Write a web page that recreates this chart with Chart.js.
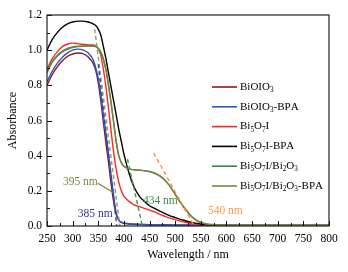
<!DOCTYPE html>
<html>
<head>
<meta charset="utf-8">
<script src="https://cdn.jsdelivr.net/npm/chart.js@4.4.0/dist/chart.umd.min.js"></script>
<style>
  html, body { margin: 0; padding: 0; background: #fff; }
</style>
</head>
<body>
<canvas id="absChart" width="348" height="272"></canvas>
<script>
// wavelength grid (nm) shared by all spectra
const wavelengths = [250, 260, 270, 280, 290, 300, 310, 320, 330, 340, 345, 350, 355, 360, 365, 370, 375, 380, 385, 390, 395, 400,
    410, 420, 430, 440, 450, 460, 470, 480, 490, 500, 510, 520, 530, 540, 550, 560, 580, 600, 650, 700, 750, 800];

// absorbance
const bioio3 = [0.80, 0.86, 0.905, 0.94, 0.965, 0.978, 0.984, 0.98, 0.962, 0.925, 0.885, 0.815, 0.71, 0.59, 0.47, 0.36, 0.24, 0.14, 0.065, 0.032, 0.02, 0.015,
    0.011, 0.009, 0.008, 0.007, 0.006, 0.006, 0.005, 0.005, 0.005, 0.005, 0.004, 0.004, 0.004, 0.004, 0.004, 0.004, 0.003, 0.003, 0.003, 0.003, 0.003, 0.003];
const bioio3Bpa = [0.82, 0.88, 0.925, 0.96, 0.985, 1.0, 1.006, 1.002, 0.985, 0.945, 0.90, 0.84, 0.75, 0.63, 0.52, 0.41, 0.29, 0.17, 0.075, 0.035, 0.022, 0.017,
    0.013, 0.011, 0.01, 0.009, 0.008, 0.008, 0.007, 0.007, 0.007, 0.006, 0.006, 0.006, 0.006, 0.005, 0.005, 0.005, 0.005, 0.005, 0.004, 0.004, 0.004, 0.004];
const bi5o7i = [0.89, 0.95, 0.99, 1.02, 1.035, 1.04, 1.037, 1.033, 1.03, 1.03, 1.025, 1.01, 0.97, 0.89, 0.79, 0.67, 0.54, 0.42, 0.32, 0.25, 0.20, 0.17,
    0.14, 0.12, 0.11, 0.10, 0.09, 0.08, 0.066, 0.055, 0.045, 0.036, 0.028, 0.021, 0.015, 0.011, 0.008, 0.006, 0.004, 0.003, 0.002, 0.002, 0.002, 0.002];
const bi5o7iBpa = [1.0, 1.06, 1.10, 1.13, 1.15, 1.16, 1.165, 1.165, 1.16, 1.15, 1.14, 1.12, 1.085, 1.02, 0.95, 0.87, 0.79, 0.71, 0.63, 0.55, 0.48, 0.41,
    0.30, 0.22, 0.17, 0.14, 0.115, 0.10, 0.085, 0.07, 0.058, 0.048, 0.038, 0.03, 0.022, 0.016, 0.011, 0.008, 0.005, 0.003, 0.002, 0.002, 0.002, 0.002];
const bi5o7iBi2o3 = [0.88, 0.935, 0.97, 0.995, 1.01, 1.018, 1.022, 1.024, 1.025, 1.025, 1.02, 1.01, 0.99, 0.95, 0.89, 0.80, 0.70, 0.59, 0.48, 0.40, 0.36, 0.34,
    0.325, 0.32, 0.318, 0.315, 0.31, 0.30, 0.285, 0.26, 0.225, 0.18, 0.135, 0.095, 0.06, 0.035, 0.02, 0.012, 0.007, 0.005, 0.004, 0.004, 0.004, 0.004];
const bi5o7iBi2o3Bpa = [0.87, 0.93, 0.965, 0.99, 1.005, 1.015, 1.02, 1.022, 1.023, 1.023, 1.02, 1.008, 0.985, 0.945, 0.885, 0.80, 0.70, 0.59, 0.48, 0.40, 0.36, 0.34,
    0.325, 0.32, 0.317, 0.314, 0.309, 0.30, 0.285, 0.26, 0.225, 0.18, 0.135, 0.095, 0.06, 0.035, 0.02, 0.012, 0.007, 0.005, 0.004, 0.004, 0.004, 0.004];

// band-edge tangent lines [start, end]
const tangent385X = [350, 386], tangent385Y = [0.92, 0];
const tangent395X = [343, 392], tangent395Y = [1.12, 0];
const tangent434X = [407, 436], tangent434Y = [0.38, 0];
const tangent540X = [458, 537], tangent540Y = [0.415, 0];
const pointerX = [349, 382], pointerY = [0.243, 0.186];

// legend text, "_" marks a subscript character
const seriesNames = ['BiOIO_3', 'BiOIO_3-BPA', 'Bi_5O_7I', 'Bi_5O_7I-BPA', 'Bi_5O_7I/Bi_2O_3', 'Bi_5O_7I/Bi_2O_3-BPA'];
const seriesColors = ['#8b1a1a', '#2456c8', '#ff2626', '#000000', '#2f8a3c', '#7f8040'];
const seriesValues = [bioio3, bioio3Bpa, bi5o7i, bi5o7iBpa, bi5o7iBi2o3, bi5o7iBi2o3Bpa];

const FONT = "'Liberation Serif', 'Times New Roman', serif";

function toPoints(xs, ys) {
    return xs.map((x, i) => ({ x: x, y: ys[i] }));
}

let datasets = seriesValues.map((vals, i) => ({
    label: seriesNames[i],
    data: toPoints(wavelengths, vals),
    borderColor: seriesColors[i],
    borderWidth: 1.4,
    pointRadius: 0,
    cubicInterpolationMode: 'monotone',
    order: 10 - i,
}));

function dashed(xs, ys, color) {
    return {
        label: '',
        data: toPoints(xs, ys),
        borderColor: color,
        borderWidth: 1.4,
        borderDash: [4, 3],
        pointRadius: 0,
        order: 1,
    };
}
datasets.push(dashed(tangent385X, tangent385Y, '#3345a8'));
datasets.push(dashed(tangent395X, tangent395Y, '#9a9a55'));
datasets.push(dashed(tangent434X, tangent434Y, '#3c9a4a'));
datasets.push(dashed(tangent540X, tangent540Y, '#ff8c3a'));
datasets.push({
    label: '',
    data: toPoints(pointerX, pointerY),
    borderColor: '#7f8040',
    borderWidth: 1.2,
    pointRadius: 0,
    order: 0,
});

// write text with one-character subscripts
function drawRich(ctx, text, x, y, size) {
    let cx = x;
    ctx.textBaseline = 'middle';
    ctx.textAlign = 'left';
    for (let i = 0; i < text.length; i++) {
        let ch = text[i];
        if (ch === '_') {
            ch = text[++i];
            ctx.font = (size * 0.66) + 'px ' + FONT;
            ctx.fillText(ch, cx, y + size * 0.3);
        } else {
            ctx.font = size + 'px ' + FONT;
            ctx.fillText(ch, cx, y);
        }
        cx += ctx.measureText(ch).width;
    }
}

const frameAndExtras = {
    id: 'frameAndExtras',
    afterDraw(chart) {
        const ctx = chart.ctx;
        const a = chart.chartArea;
        const xs = chart.scales.x, ys = chart.scales.y;
        ctx.save();

        // inward ticks
        ctx.strokeStyle = '#111';
        ctx.lineWidth = 1;
        ctx.beginPath();
        for (let v = 250; v <= 800; v += 25) {
            let px = Math.round(xs.getPixelForValue(v)) + 0.5;
            let len = v % 50 === 0 ? 5 : 3;
            ctx.moveTo(px, a.bottom);
            ctx.lineTo(px, a.bottom - len);
        }
        for (let i = 0; i <= 12; i++) {
            let py = Math.round(ys.getPixelForValue(i / 10)) + 0.5;
            let len = i % 2 === 0 ? 5 : 3;
            ctx.moveTo(a.left, py);
            ctx.lineTo(a.left + len, py);
        }
        ctx.stroke();

        // box
        ctx.strokeStyle = '#222';
        ctx.lineWidth = 1.2;
        ctx.strokeRect(a.left, a.top, a.right - a.left, a.bottom - a.top);

        // legend
        let lx = a.right - 117, ly = a.top + 72;
        seriesNames.forEach((name, i) => {
            let y = ly + i * 19.8;
            ctx.strokeStyle = seriesColors[i];
            ctx.lineWidth = 1.6;
            ctx.beginPath();
            ctx.moveTo(lx, y);
            ctx.lineTo(lx + 25, y);
            ctx.stroke();
            ctx.fillStyle = '#000';
            drawRich(ctx, name, lx + 28, y, 11);
        });

        // band-edge labels
        const notes = [
            { text: '395 nm', x: 281, y: 0.249, color: '#7f8040' },
            { text: '385 nm', x: 310, y: 0.071, color: '#333399' },
            { text: '434 nm', x: 437, y: 0.14, color: '#3c8a48' },
            { text: '540 nm', x: 564, y: 0.083, color: '#ff9a50' },
        ];
        notes.forEach(n => {
            ctx.fillStyle = n.color;
            drawRich(ctx, n.text, xs.getPixelForValue(n.x), ys.getPixelForValue(n.y), 11.5);
        });
        ctx.restore();
    }
};

new Chart(document.getElementById('absChart'), {
    type: 'line',
    data: { datasets: datasets },
    options: {
        responsive: false,
        animation: false,
        layout: { padding: { left: 0, right: 19, top: 15, bottom: 0 } },
        plugins: {
            legend: { display: false },
            tooltip: { enabled: false },
        },
        scales: {
            x: {
                type: 'linear',
                min: 250,
                max: 800,
                grid: { display: false, drawTicks: false },
                border: { display: false },
                ticks: {
                    stepSize: 50,
                    padding: 6,
                    color: '#000',
                    font: { family: FONT, size: 11.5 },
                    maxRotation: 0,
                },
                title: {
                    display: true,
                    text: 'Wavelength / nm',
                    color: '#000',
                    font: { family: FONT, size: 12 },
                    padding: { top: 0, bottom: 10 },
                },
                afterFit(scale) { scale.height = 46; },
            },
            y: {
                min: 0,
                max: 1.2,
                grid: { display: false, drawTicks: false },
                border: { display: false },
                ticks: {
                    stepSize: 0.2,
                    padding: 5,
                    color: '#000',
                    font: { family: FONT, size: 11.5 },
                    callback: v => v.toFixed(1),
                },
                title: {
                    display: true,
                    text: 'Absorbance',
                    color: '#000',
                    font: { family: FONT, size: 12 },
                    padding: { top: 6, bottom: 0 },
                },
                afterFit(scale) { scale.width = 47; },
            },
        },
    },
    plugins: [frameAndExtras],
});
</script>
</body>
</html>
